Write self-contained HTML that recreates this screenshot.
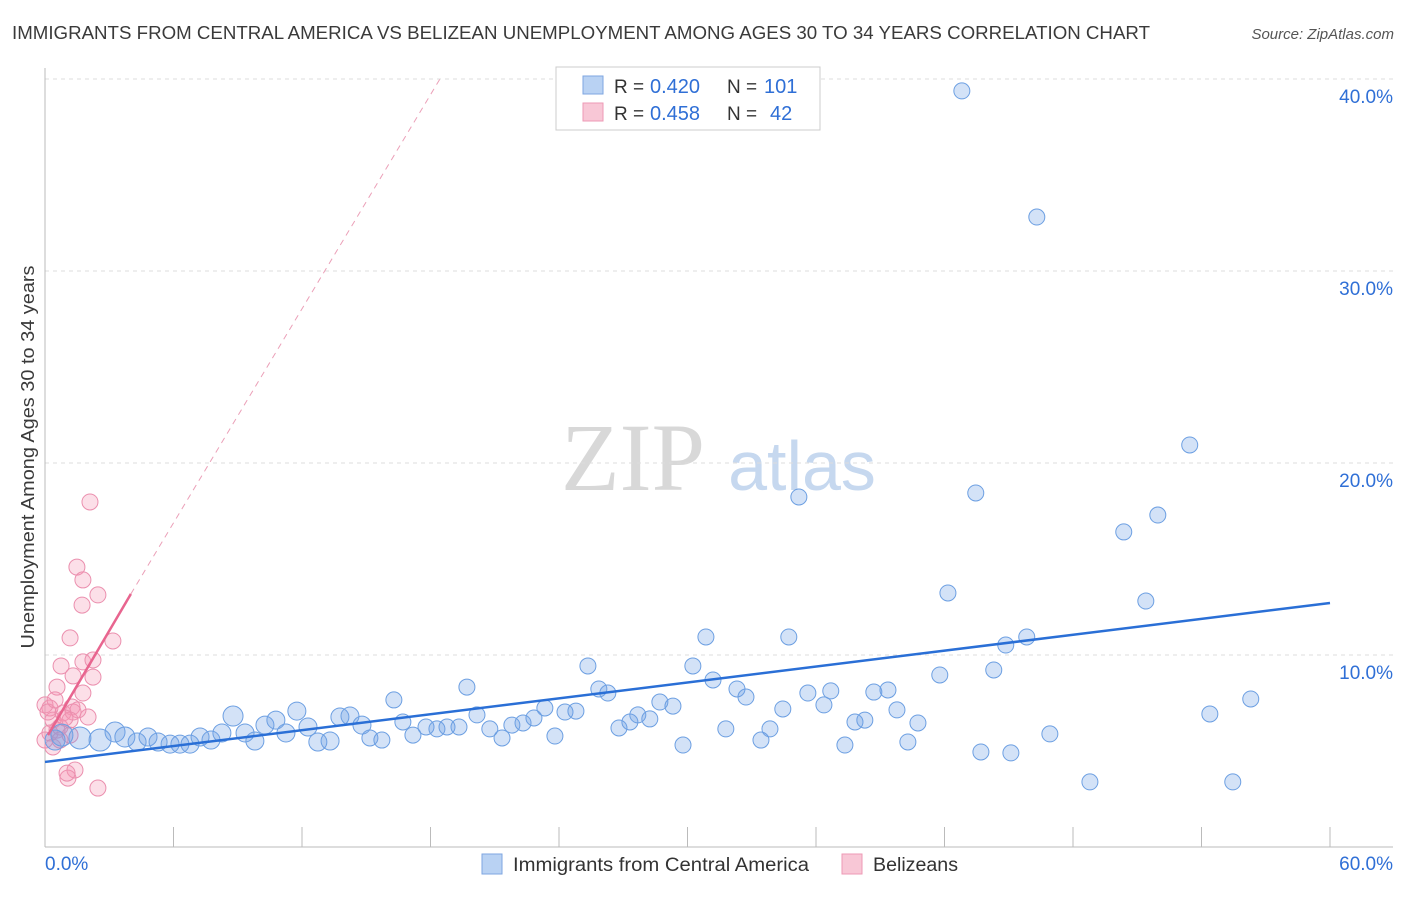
<!DOCTYPE html>
<html><head><meta charset="utf-8"><style>
body{margin:0;background:#fff;font-family:"Liberation Sans",sans-serif;}
svg text{font-family:"Liberation Sans",sans-serif;}
</style></head><body>
<svg id="chart" width="1406" height="892" viewBox="0 0 1406 892" xmlns="http://www.w3.org/2000/svg">
<text x="12" y="39" font-size="18" fill="#3a3a3a" textLength="1138" lengthAdjust="spacingAndGlyphs">IMMIGRANTS FROM CENTRAL AMERICA VS BELIZEAN UNEMPLOYMENT AMONG AGES 30 TO 34 YEARS CORRELATION CHART</text>
<text x="1394" y="39" font-size="15" fill="#555" text-anchor="end" font-style="italic">Source: ZipAtlas.com</text>
<g>
<text x="633" y="490" font-size="96" fill="#d8d8d8" text-anchor="middle" style="font-family:'Liberation Serif',serif">ZIP</text>
<text x="802" y="490" font-size="70" fill="#c6d8ef" text-anchor="middle">atlas</text>
</g>
<g id="grid"></g><g id="axes"></g><g id="marks"></g>
<text transform="translate(34,457) rotate(-90)" font-size="18" fill="#3a3a3a" text-anchor="middle" textLength="383" lengthAdjust="spacingAndGlyphs">Unemployment Among Ages 30 to 34 years</text>
<g>
<rect x="556" y="67" width="264" height="63" fill="#fff" stroke="#ccc"/>
<rect x="583" y="76" width="20" height="18" fill="#b9d2f3" stroke="#7ea6e0"/>
<rect x="583" y="103" width="20" height="18" fill="#f8c7d6" stroke="#ee9ab5"/>
<text x="614" y="93" font-size="19" fill="#333">R =</text>
<text x="650" y="93" font-size="20" fill="#2f6fd6">0.420</text>
<text x="727" y="93" font-size="19" fill="#333">N =</text>
<text x="764" y="93" font-size="20" fill="#2f6fd6">101</text>
<text x="614" y="120" font-size="19" fill="#333">R =</text>
<text x="650" y="120" font-size="20" fill="#2f6fd6">0.458</text>
<text x="727" y="120" font-size="19" fill="#333">N =</text>
<text x="770" y="120" font-size="20" fill="#2f6fd6">42</text>
</g>
<g>
<rect x="482" y="854" width="20" height="20" fill="#b9d2f3" stroke="#7ea6e0"/>
<text x="513" y="871" font-size="19" fill="#333" textLength="296" lengthAdjust="spacingAndGlyphs">Immigrants from Central America</text>
<rect x="842" y="854" width="20" height="20" fill="#f8c7d6" stroke="#ee9ab5"/>
<text x="873" y="871" font-size="19" fill="#333" textLength="85" lengthAdjust="spacingAndGlyphs">Belizeans</text>
</g>
</svg>
<script>
const blueX=[0.47,0.79,1.63,2.57,3.27,3.73,4.30,4.81,5.28,5.84,6.30,6.77,7.24,7.75,8.26,8.78,9.34,9.80,10.27,10.78,11.25,11.76,12.28,12.74,13.31,13.77,14.24,14.80,15.17,15.73,16.29,16.71,17.18,17.79,18.30,18.77,19.33,19.70,20.17,20.77,21.34,21.80,22.32,22.83,23.34,23.81,24.28,24.79,25.35,25.86,26.28,26.80,27.31,27.68,28.24,28.71,29.32,29.79,30.25,30.86,31.19,31.79,32.31,32.73,33.43,33.85,34.45,34.73,35.20,35.62,36.37,36.69,37.35,37.82,38.28,38.70,39.36,39.78,40.29,40.76,41.78,42.16,42.81,43.46,43.70,44.30,44.86,45.10,45.84,46.31,46.92,48.79,50.37,51.40,51.96,53.45,54.39,55.46,56.30];
const blueY=[5.57,5.83,5.68,5.57,5.99,5.73,5.47,5.73,5.47,5.36,5.36,5.36,5.73,5.57,5.94,6.82,5.94,5.52,6.35,6.61,5.94,7.08,6.25,5.47,5.52,6.77,6.82,6.35,5.68,5.57,7.66,6.51,5.83,6.25,6.15,6.25,6.25,8.33,6.88,6.15,5.68,6.35,6.46,6.72,7.24,5.78,7.03,7.08,9.43,8.23,8.02,6.20,6.51,6.88,6.67,7.55,7.34,5.31,9.43,10.94,8.70,6.15,8.23,7.81,5.57,6.15,7.19,10.94,18.23,8.02,7.40,8.13,5.31,6.51,6.61,8.07,8.18,7.14,5.47,6.46,8.96,13.23,39.38,18.44,4.95,9.22,10.52,4.90,10.94,32.81,5.89,3.39,16.41,12.81,17.29,20.94,6.93,3.39,7.71];
const blueR=[10,11,11,11,10,10,9,9,9,9,9,9,9,9,9,10,9,9,9,9,9,9,9,9,9,9,9,9,8,8,8,8,8,8,8,8,8,8,8,8,8,8,8,8,8,8,8,8,8,8,8,8,8,8,8,8,8,8,8,8,8,8,8,8,8,8,8,8,8,8,8,8,8,8,8,8,8,8,8,8,8,8,8,8,8,8,8,8,8,8,8,8,8,8,8,8,8,8,8];
const pinkX=[2.10,1.49,1.77,2.47,1.73,1.17,3.17,0.75,1.77,2.24,1.31,2.24,0.56,1.77,1.26,2.01,0.23,0.37,0.84,1.31,1.54,0.56,0.23,0.37,0.70,1.17,1.40,1.07,1.03,2.47,0,0.14,0.47,0.93,0,0.70,1.17];
const pinkY=[17.97,14.58,13.91,13.13,12.60,10.89,10.73,9.43,9.64,9.74,8.91,8.85,8.33,8.02,7.29,6.77,7.24,6.61,6.98,7.03,7.14,6.09,5.94,5.21,6.25,6.61,4.01,3.59,3.85,3.07,7.40,7.03,7.66,6.72,5.57,5.57,5.83];
const blueTrend=[[0,4.43],[60,12.71]];
const pinkTrend=[[0.14,5.83],[4.01,13.18]];
const pinkTrendDash=[[4.01,13.18],[18.44,40.0]];
const yTicks=[10,20,30,40];
const xTickVals=[6,12,18,24,30,36,42,48,54,60];

const NS="http://www.w3.org/2000/svg";
const X=v=>45+v*(1285/60);
const Y=v=>847-v*19.2;
function mk(tag,attrs,parent){const e=document.createElementNS(NS,tag);for(const k in attrs)e.setAttribute(k,attrs[k]);document.getElementById(parent).appendChild(e);return e;}

yTicks.forEach(t=>{
  const l=mk('line',{x1:45,x2:1393,y1:Y(t),y2:Y(t),stroke:'#ddd','stroke-dasharray':'4,4'},'grid');
  
  
  const tx=mk('text',{x:1393,y:Y(t)+24,'font-size':19,fill:'#2f6fd6','text-anchor':'end'},'grid');
  tx.textContent=t.toFixed(1)+'%';
  
  
});
let a=mk('line',{x1:45,x2:45,y1:68,y2:847,stroke:'#bbb'},'axes');


a=mk('line',{x1:45,x2:1393,y1:847,y2:847,stroke:'#bbb'},'axes');


xTickVals.forEach(t=>{
  const l=mk('line',{x1:X(t),x2:X(t),y1:827,y2:847,stroke:'#bbb'},'axes');
  
  
});
let t0=mk('text',{x:45,y:870,'font-size':19,fill:'#2f6fd6'},'axes');t0.textContent='0.0%';


let t1=mk('text',{x:1393,y:870,'font-size':19,fill:'#2f6fd6','text-anchor':'end'},'axes');t1.textContent='60.0%';



pinkX.forEach((x,i)=>{
  const c=mk('circle',{cx:X(x),cy:Y(pinkY[i]),r:8,fill:'rgba(244,150,180,0.3)',stroke:'#eb8fae','stroke-width':1},'marks');
  
  
});
blueX.forEach((x,i)=>{
  const c=mk('circle',{cx:X(x),cy:Y(blueY[i]),r:blueR[i],fill:'rgba(110,160,230,0.3)',stroke:'#6c9fe2','stroke-width':1},'marks');
  
  
});
let tl=mk('line',{x1:X(blueTrend[0][0]),y1:Y(blueTrend[0][1]),x2:X(blueTrend[1][0]),y2:Y(blueTrend[1][1]),stroke:'#2a6fd6','stroke-width':2.5},'marks');


tl=mk('line',{x1:X(pinkTrend[0][0]),y1:Y(pinkTrend[0][1]),x2:X(pinkTrend[1][0]),y2:Y(pinkTrend[1][1]),stroke:'#e8658f','stroke-width':2.5},'marks');


tl=mk('line',{x1:X(pinkTrendDash[0][0]),y1:Y(pinkTrendDash[0][1]),x2:X(pinkTrendDash[1][0]),y2:Y(pinkTrendDash[1][1]),stroke:'#eba0b8','stroke-width':1,'stroke-dasharray':'6,5'},'marks');


</script>
</body></html>
